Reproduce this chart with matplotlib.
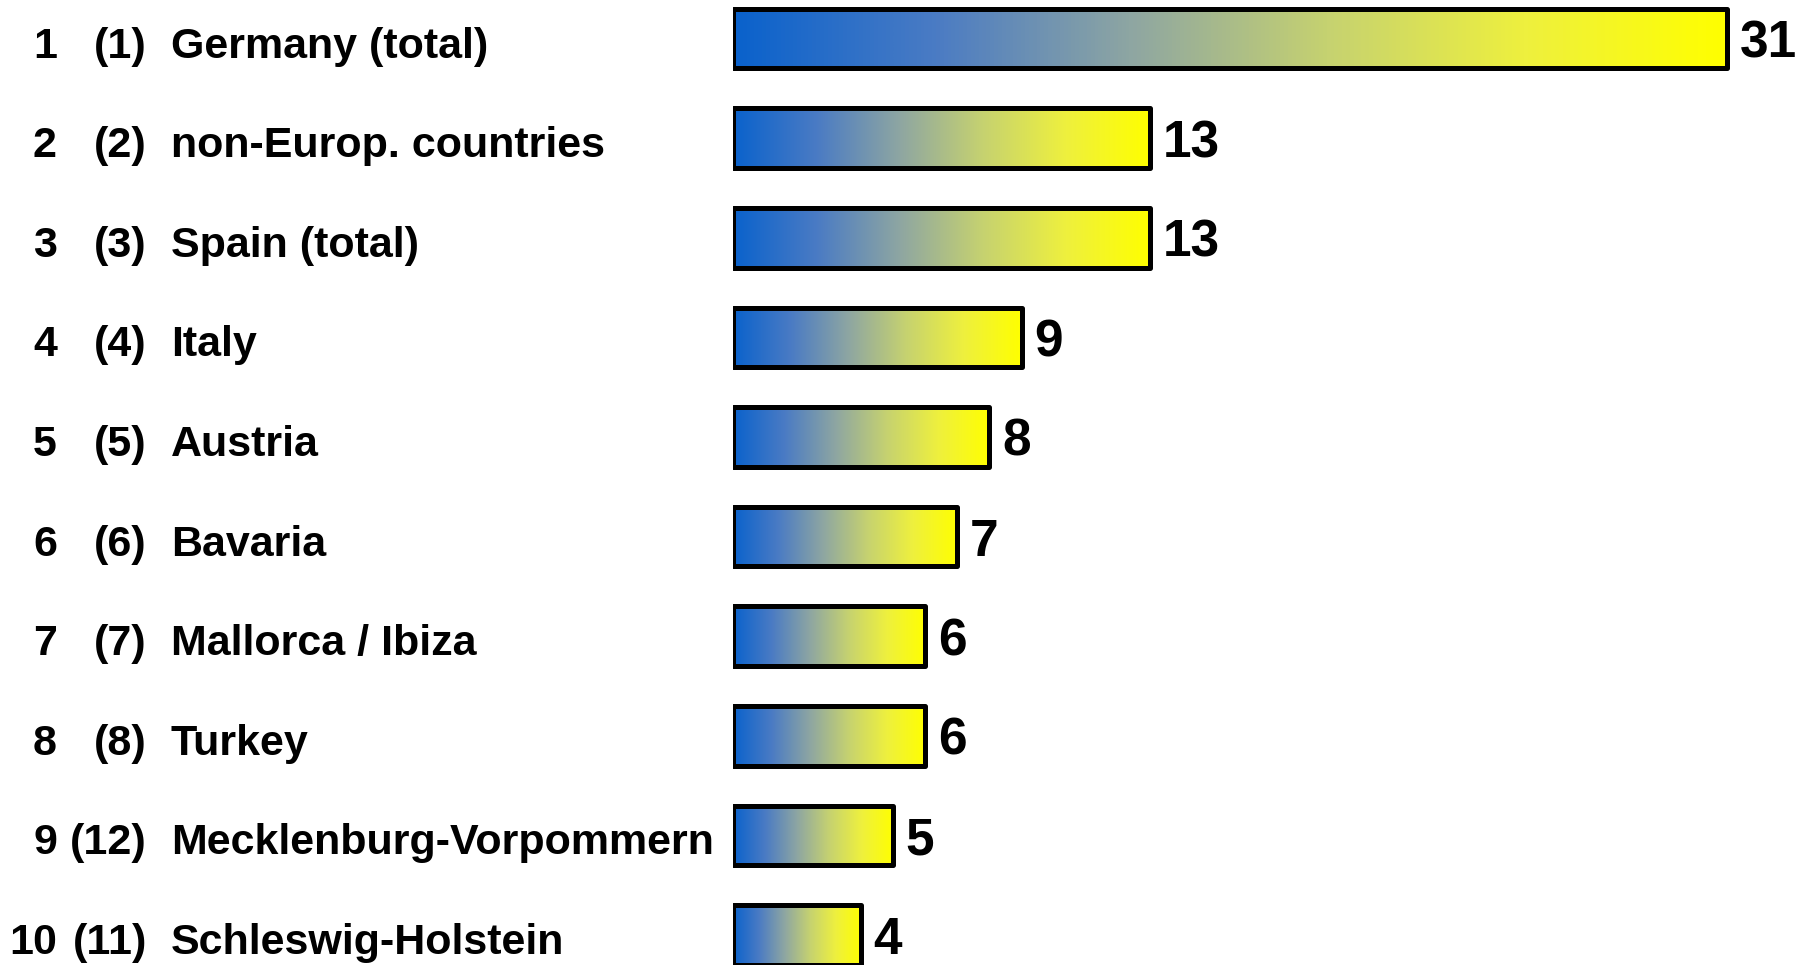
import numpy as np
import matplotlib
matplotlib.use('Agg')
import matplotlib.pyplot as plt
from matplotlib.colors import LinearSegmentedColormap
from matplotlib import transforms

# ranking data
ranks = ['1', '2', '3', '4', '5', '6', '7', '8', '9', '10']
prev_ranks = ['(1)', '(2)', '(3)', '(4)', '(5)', '(6)', '(7)', '(8)', '(12)', '(11)']
names = ['Germany (total)', 'non-Europ. countries', 'Spain (total)', 'Italy', 'Austria',
         'Bavaria', 'Mallorca / Ibiza', 'Turkey', 'Mecklenburg-Vorpommern', 'Schleswig-Holstein']
values = [31, 13, 13, 9, 8, 7, 6, 6, 5, 4]

plt.rcParams['font.family'] = ['Liberation Sans', 'DejaVu Sans']
plt.rcParams['font.weight'] = 'bold'

cmap = LinearSegmentedColormap.from_list('blueyellow', [
    (0.0, '#0a62cc'), (0.2, '#4a7bc4'), (0.4, '#8ea6a2'),
    (0.6, '#c6d270'), (0.8, '#eef03e'), (1.0, '#ffff00')])

W, H = 1808, 965
fig = plt.figure(figsize=(W / 100, H / 100), dpi=100)
ax = fig.add_axes([733 / W, 0, 1 - 733 / W, 1])
ax.set_axis_off()

pitch = 99.6
top = 38.6
bh = 0.6
base = 0.19  # text baseline below the bar centre
grad = np.linspace(0, 1, 256).reshape(1, -1)

for i, v in enumerate(values):
    ax.imshow(grad, extent=(0, v, i + bh / 2, i - bh / 2), aspect='auto', cmap=cmap,
              interpolation='bilinear', zorder=1)
    ax.barh(i, v, height=bh, facecolor='none', edgecolor='black', linewidth=3.6,
            joinstyle='round', zorder=2)
    ax.annotate(str(v), xy=(v, i + base), xytext=(9, 0), textcoords='offset points',
                ha='left', va='baseline', fontsize=37, fontweight='bold', color='black')

ax.set_xlim(0, 1075 / 32.06)
ax.set_ylim((H - top) / pitch, -top / pitch)

# label columns on the left side
tr = transforms.blended_transform_factory(fig.transFigure, ax.transData)
for i in range(len(values)):
    y = i + base
    ax.text(57 / W, y, ranks[i], transform=tr, ha='right', va='baseline', fontsize=31)
    ax.text(147 / W, y, prev_ranks[i], transform=tr, ha='right', va='baseline', fontsize=31)
    ax.text(171 / W, y, names[i], transform=tr, ha='left', va='baseline', fontsize=31)

fig.savefig('out.png', dpi=100, facecolor='white')
